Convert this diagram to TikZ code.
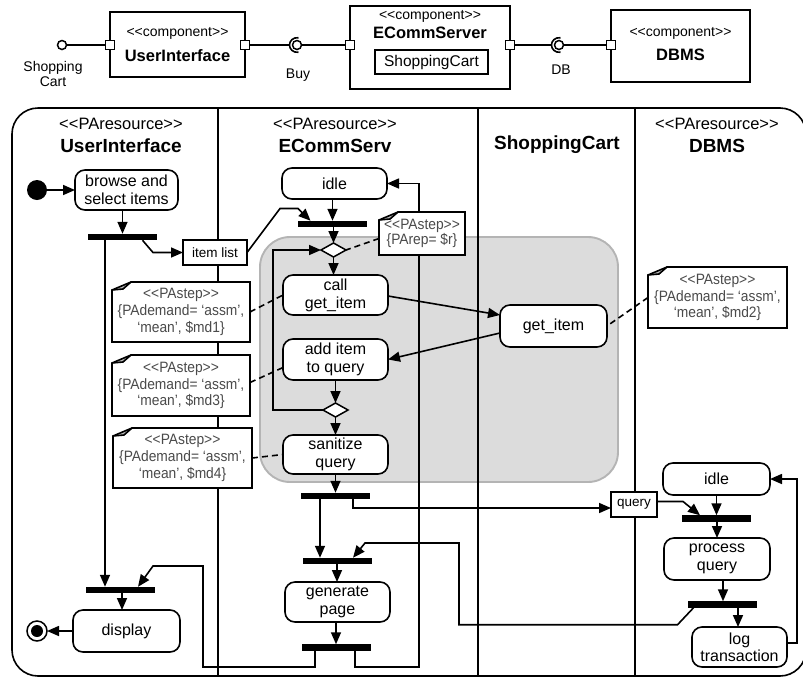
\documentclass[tikz,border=0pt]{standalone}
\usepackage{fontspec}
\setmainfont{Liberation Sans}
\newfontfamily\notefont[FakeStretch=0.92]{Liberation Sans}
\usetikzlibrary{arrows.meta,calc,shapes.geometric}
\pgfdeclarelayer{back}
\pgfdeclarelayer{wires}
\pgfsetlayers{back,wires,main}
\definecolor{regionfill}{HTML}{DCDCDC}
\definecolor{regionedge}{HTML}{B4B4B4}
\definecolor{notetext}{HTML}{4A4A4A}
\definecolor{foldfill}{HTML}{B8B8B8}
% kerns keep the two angle brackets from merging into guillemets
\newcommand\stereo[1]{<\kern0pt<#1>\kern0pt>}
\newcommand\fs[2]{\fontsize{#1}{#2}\selectfont}
% outline of a note with its folded top-left corner
\newcommand\foldcorner[1]{%
  \fill[foldfill] ($(#1.north west)+(0,8)$) -- ($(#1.north west)+(19,0)$) -- ($(#1.north west)+(11,7)$) -- cycle;
  \draw[notebd] ($(#1.north west)+(0,8)$) -- ($(#1.north west)+(11,7)$) -- ($(#1.north west)+(19,0)$);
  \draw[notebd] (#1.south west) -- ($(#1.north west)+(0,8)$) -- ($(#1.north west)+(19,0)$) -- (#1.north east) -- (#1.south east) -- cycle;}
% socket half-circle left of a ball
\newcommand\socket[1]{%
  \draw[wire] ($(#1)+(1.5,-7.3)$) .. controls ($(#1)+(-4,-7.8)$) and ($(#1)+(-7.5,-4.2)$) .. ($(#1)+(-7.5,0)$)
              .. controls ($(#1)+(-7.5,4.2)$) and ($(#1)+(-4,7.8)$) .. ($(#1)+(1.5,7.3)$);}
\begin{document}
\begin{tikzpicture}[x=1pt,y=-1pt,
  every node/.style={inner sep=0pt,outer sep=0pt},
  comp/.style={draw,line width=1.7pt,fill=white},
  port/.style={draw,line width=1.5pt,fill=white,minimum size=9pt},
  ball/.style={draw,circle,line width=1.5pt,fill=white,minimum size=9pt},
  act/.style={draw,line width=1.6pt,rounded corners=10pt,fill=white,align=center,font=\fs{16}{18}},
  obj/.style={draw,line width=1.5pt,fill=white,font=\fs{13.5}{15}},
  bar/.style={fill=black,minimum width=69pt,minimum height=6.5pt},
  merge/.style={draw,diamond,line width=1.5pt,fill=white,minimum width=25pt,minimum height=14pt},
  pnote/.style={fill=white,align=center,text=notetext,font=\notefont\fs{15}{16.7}},
  notebd/.style={line width=1.6pt,line join=miter},
  wire/.style={line width=1.6pt},
  arr/.style={line width=1.6pt,-{Triangle[length=12pt,width=10pt]}},
  tie/.style={line width=1.6pt,dash pattern=on 6pt off 4pt},
  lanehead/.style={font=\fs{16.5}{18}},
  lanename/.style={font=\bfseries\fs{19}{21}},
  compst/.style={font=\fs{14}{16}},
  compname/.style={font=\bfseries\fs{16.5}{18}},
]
\useasboundingbox (0,0) rectangle (803,678);

% ---------- component view ----------
\node[ball] (cartball) at (62,45) {};
\node[compst,align=center,font=\fs{14}{15}] (cartlbl) at (53,73.5) {Shopping\\Cart};
\node[comp,minimum width=135pt,minimum height=65pt] (uibox) at (177.5,44.5) {};
\node[compst] (uist) at (177.5,33) {\stereo{component}};
\node[compname] (uinm) at (177.5,56) {UserInterface};
\node[port] (uiL) at (110,45) {};
\node[port] (uiR) at (245,45) {};

\node[ball] (buyball) at (297,45) {};
\coordinate (buysock) at (289.5,45);
\node[compst] (buylbl) at (298,75) {Buy};

\node[comp,minimum width=160pt,minimum height=83pt] (ecbox) at (430,47.5) {};
\node[compst] (ecst) at (430,16) {\stereo{component}};
\node[compname] (ecnm) at (430,33) {ECommServer};
\node[draw,line width=1.5pt,fill=white,minimum width=113pt,minimum height=24pt,font=\fs{15.5}{17}] (ecpart) at (431.5,62) {ShoppingCart};
\node[port] (ecL) at (350,45) {};
\node[port] (ecR) at (510,45) {};

\node[ball] (dbball) at (559,45) {};
\coordinate (dbsock) at (551.5,45);
\node[compst] (dblbl) at (561,70) {DB};

\node[comp,minimum width=139pt,minimum height=72pt] (dbbox) at (680.5,46) {};
\node[compst] (dbst) at (680.5,33) {\stereo{component}};
\node[compname] (dbnm) at (680.5,55) {DBMS};
\node[port] (dbL) at (611,45) {};

\draw[wire] (cartball) -- (uiL);
\draw[wire] (uiR) -- (buysock);
\socket{buyball}
\draw[wire] (buyball) -- (ecL);
\draw[wire] (ecR) -- (dbsock);
\socket{dbball}
\draw[wire] (dbball) -- (dbL);

% ---------- swimlanes ----------
\begin{pgfonlayer}{back}
  \begin{scope}
    \clip (0,0) rectangle (803,678);
    \draw[line width=1.6pt,rounded corners=26pt] (12,108) rectangle (806,676);
  \end{scope}
  \draw[fill=regionfill,draw=regionedge,line width=1.9pt,rounded corners=30pt] (260,237) rectangle (618,482);
  \draw[wire] (218,108) -- (218,676) (478,108) -- (478,676) (635,108) -- (635,676);
\end{pgfonlayer}

\node[lanehead] (h1s) at (121,124) {\stereo{PAresource}};
\node[lanename] (h1n) at (121,146) {UserInterface};
\node[lanehead] (h2s) at (335,124) {\stereo{PAresource}};
\node[lanename] (h2n) at (335,146) {ECommServ};
\node[lanename] (h3n) at (557,145) {ShoppingCart};
\node[lanehead] (h4s) at (717,124) {\stereo{PAresource}};
\node[lanename] (h4n) at (717,146) {DBMS};

% UserInterface lane
\node[circle,fill=black,minimum size=20pt] (init) at (37,190) {};
\node[act,minimum width=103pt,minimum height=40pt] (browse) at (126.5,190) {browse and\\select items};
\node[bar] (fork1) at (122.5,237) {};
\node[obj,minimum width=64pt,minimum height=25pt] (itemlist) at (215,252.5) {item list};
\node[bar] (join1) at (120,590) {};
\node[act,minimum width=107pt,minimum height=42pt] (display) at (126.5,631) {display};
\node[circle,draw,line width=1.5pt,fill=white,minimum size=20pt] (final) at (37,631) {};
\node[circle,fill=black,minimum size=12pt] (finaldot) at (final) {};

% ECommServ lane
\node[act,minimum width=105pt,minimum height=31pt] (idle1) at (334.5,183.5) {idle};
\node[bar] (fork2) at (332.5,224) {};
\node[merge] (merge1) at (333.5,250) {};
\node[act,minimum width=105pt,minimum height=40pt] (call) at (335.5,295) {call\\get\_item};
\node[act,minimum width=105pt,minimum height=41pt] (additem) at (335.5,359.5) {add item\\to query};
\node[merge] (merge2) at (335.5,410) {};
\node[act,minimum width=105pt,minimum height=39pt] (sanitize) at (335.5,454.5) {sanitize\\query};
\node[bar] (fork3) at (335.5,496) {};
\node[bar] (fork4) at (337,561) {};
\node[act,minimum width=105pt,minimum height=40pt] (genpage) at (337.5,602) {generate\\page};
\node[bar] (fork5) at (336,647.5) {};

% ShoppingCart lane
\node[act,minimum width=107pt,minimum height=42pt] (getitem) at (553.5,326) {get\_item};
\node[obj,minimum width=46pt,minimum height=25pt] (query) at (634,504.5) {query};

% DBMS lane
\node[act,minimum width=107pt,minimum height=32pt] (dbidle) at (716.5,479) {idle};
\node[bar] (dbfork1) at (716,518.5) {};
\node[act,minimum width=106pt,minimum height=42pt] (process) at (717,559) {process\\query};
\node[bar] (dbfork2) at (722.5,604.5) {};
\node[act,minimum width=95pt,minimum height=40pt,font=\fs{16}{17}] (logtx) at (739.5,647) {log\\transaction};

% performance annotations
\node[pnote,minimum width=86pt,minimum height=43pt,font=\notefont\fs{15}{15}] (reps) at (422,233.5) {\stereo{PAstep}\\\{PArep= \$r\}};
\foldcorner{reps}
\node[pnote,minimum width=138pt,minimum height=60pt] (note1) at (181,312) {\stereo{PAstep}\\\{PAdemand= ‘assm’,\\‘mean’, \$md1\}};
\foldcorner{note1}
\node[pnote,minimum width=138pt,minimum height=61pt] (note2) at (181,385.5) {\stereo{PAstep}\\\{PAdemand= ‘assm’,\\‘mean’, \$md3\}};
\foldcorner{note2}
\node[pnote,minimum width=139pt,minimum height=60pt] (note3) at (182.5,458) {\stereo{PAstep}\\\{PAdemand= ‘assm’,\\‘mean’, \$md4\}};
\foldcorner{note3}
\node[pnote,minimum width=139pt,minimum height=61pt] (note4) at (717.5,297.5) {\stereo{PAstep}\\\{PAdemand= ‘assm’,\\‘mean’, \$md2\}};
\foldcorner{note4}

% ---------- control and object flows ----------
\begin{pgfonlayer}{wires}
  \draw[arr] (init) -- (browse);
  \draw[arr] (browse.south -| fork1) -- (fork1.north);
  \draw[arr] ($(fork1.south)+(-17.5,0)$) -- ($(join1.north)+(-15,0)$);
  \draw[arr] ($(fork1.south)+(20,0)$) -- ($(itemlist.west)+(-30,0)$) -- (itemlist.west);
  \draw[arr] (itemlist.east) -- ++(33,-44) -- ++(18,0) -- ($(fork2.north)+(-22,0)$);
  \draw[arr] (idle1.south -| fork2) -- (fork2.north);
  \draw[arr] (fork2.south -| merge1) -- (merge1.north);
  \draw[arr] (merge1.south) -- (merge1.south |- call.north);
  \draw[arr] ($(call.east)+(0,1)$) -- ($(getitem.west)+(0,-11)$);
  \draw[arr] ($(getitem.west)+(0,7)$) -- (additem.east);
  \draw[arr] (additem.south) -- (additem.south |- merge2.north);
  \draw[arr] (merge2.south) -- (merge2.south |- sanitize.north);
  \draw[arr] (merge2.west) -- ++(-50,0) |- (merge1.west);
  \draw[arr] (sanitize.south) -- (sanitize.south |- fork3.north);
  \draw[arr] ($(fork3.south)+(-15.5,0)$) -- ($(fork4.north)+(-17,0)$);
  \draw[arr] ($(fork3.south)+(17.5,0)$) |- ($(query.west)+(0,3.5)$);
  \draw[arr] ($(query.east)+(0,-3)$) -- ++(26,0) -- ($(dbfork1.north)+(-16,0)$);
  \draw[arr] (dbidle.south) -- (dbidle.south |- dbfork1.north);
  \draw[arr] (dbfork1.south -| process) -- (process.north);
  \draw[arr] ($(process.south)+(6,0)$) -- ($(dbfork2.north)+(0.5,0)$);
  \draw[arr] ($(dbfork2.south)+(15.5,0)$) -- ($(logtx.north)+(-1.5,0)$);
  \draw[arr] ($(logtx.east)+(0,-4)$) -- ++(10,0) |- (dbidle.east);
  \draw[arr] ($(dbfork2.south)+(-29,0)$) -- ++(-16,17) -| (459,543) -- (365,543) -- ($(fork4.north)+(16,0)$);
  \draw[arr] (fork4.south) -- (fork4.south |- genpage.north);
  \draw[arr] (genpage.south -| fork5) -- (fork5.north);
  \draw[arr] ($(fork5.south)+(19,0)$) |- (419,667) |- (idle1.east);
  \draw[arr] ($(fork5.south)+(-21,0)$) |- (203,667) |- (153,566) -- ($(join1.north)+(18,0)$);
  \draw[arr] ($(join1.south)+(2,0)$) -- ($(display.north)+(-4.5,0)$);
  \draw[arr] (display.west) -- (final);
  % annotation ties
  \draw[tie] ($(reps.west)+(0,5)$) -- (merge1.east);
  \draw[tie] (note1.east) -- (call.west);
  \draw[tie] ($(note2.east)+(0,-3)$) -- ($(additem.west)+(0,8)$);
  \draw[tie] (note3.east) -- (sanitize.west);
  \draw[tie] (note4.west) -- (getitem.east);
\end{pgfonlayer}
\end{tikzpicture}
\end{document}
